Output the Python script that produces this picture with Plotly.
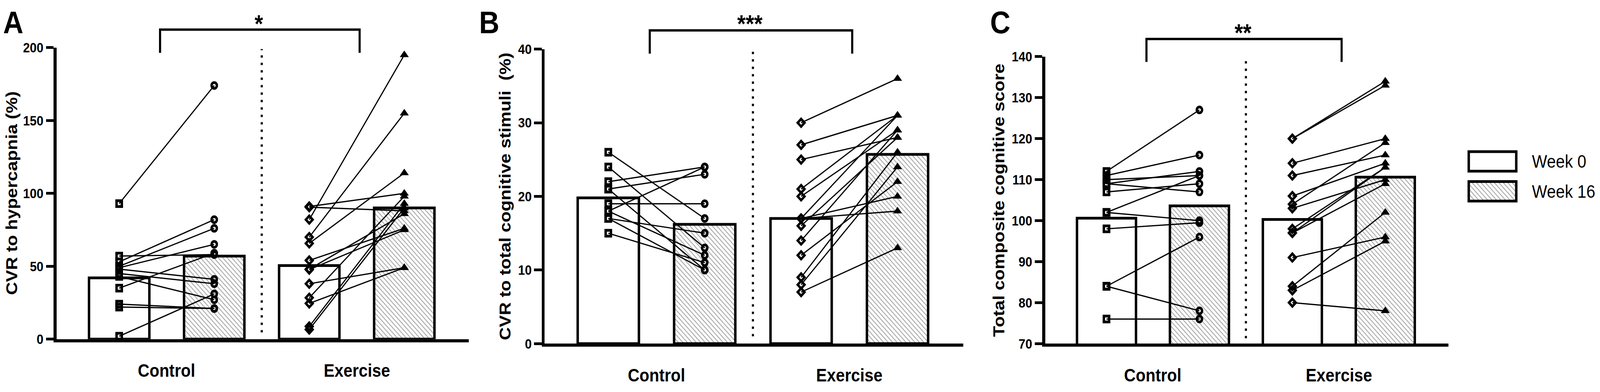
import plotly.graph_objects as go

W, H = 4562, 1003
FONT = "Liberation Sans, Arial, sans-serif"

# ---------------- data ----------------
groups = ["Control", "Exercise"]
week_names = ["Week 0", "Week 16"]

# Panel A - CVR to hypercapnia (%)
a_bar_week0 = [42, 50.5]
a_bar_week16 = [57, 90]
a_ctrl_week0 = [93, 57, 53, 50, 49, 35, 48, 45, 43, 24, 22, 2]
a_ctrl_week16 = [174, 58, 82, 76, 65, 59, 41, 38, 27, 21, 21, 31]
a_ex_week0 = [91, 90.5, 82, 70, 65.7, 54, 48, 47.7, 38, 28.4, 24.5, 8.7, 6.6]
a_ex_week16 = [100, 88, 195, 155, 114, 76, 86, 75, 49, 98, 49, 93, 90]
a_ticks = [0, 50, 100, 150, 200]

# Panel B - CVR to total cognitive stimuli (%)
b_bar_week0 = [19.8, 17.0]
b_bar_week16 = [16.2, 25.7]
b_ctrl_week0 = [26, 24, 22, 21, 19, 18, 18, 17, 17, 15, 21]
b_ctrl_week16 = [17, 13, 24, 23, 19, 24, 12, 15, 10, 11, 10]
b_ex_week0 = [30, 27, 25, 21, 20, 17, 17, 17, 16, 14, 12, 9, 8, 7]
b_ex_week16 = [36, 31, 28, 31, 29, 20, 18, 31, 28, 29, 22, 26, 24, 13]
b_ticks = [0, 10, 20, 30, 40]

# Panel C - Total composite cognitive score
c_bar_week0 = [100.6, 100.3]
c_bar_week16 = [103.6, 110.6]
c_ctrl_week0 = [112, 111, 110, 109, 109, 107, 102, 102, 98, 84, 84, 76]
c_ctrl_week16 = [127, 116, 111, 112, 107, 109, 111, 100, 99.5, 96, 78, 76]
c_ex_week0 = [120, 120, 114, 111, 106, 104, 103, 98, 97, 97, 91, 84, 83, 80]
c_ex_week16 = [134, 133, 120, 116, 114, 119, 110, 113, 109, 113, 96, 102, 95, 78]
c_ticks = [70, 80, 90, 100, 110, 120, 130, 140]

# bar slots on each x axis: Control W0, Control W16, Exercise W0, Exercise W16
slot_w0 = [1, 3]
slot_w16 = [2, 4]
group_centers = [1.5, 3.5]

# ---------------- layout helpers ----------------
def fx(p):
    return p / W

def fy(p):
    return 1 - p / H

panels = [
    dict(key="", letter="A", letter_x=38, title="CVR to hypercapnia (%)", title_x=33,
         xdom=(161, 1337), ydom=(106, 882), yrange=[0, 200], ticks=a_ticks,
         bw0=a_bar_week0, bw16=a_bar_week16,
         cw0=a_ctrl_week0, cw16=a_ctrl_week16, ew0=a_ex_week0, ew16=a_ex_week16,
         stars="*", star_y=42, br_top=58, br_bot=120, dot=(4.6, 199)),
    dict(key="2", letter="B", letter_x=1395, title="CVR to total cognitive stimuli  (%)", title_x=1440,
         xdom=(1553, 2746), ydom=(110, 894), yrange=[0, 40], ticks=b_ticks,
         bw0=b_bar_week0, bw16=b_bar_week16,
         cw0=b_ctrl_week0, cw16=b_ctrl_week16, ew0=b_ex_week0, ew16=b_ex_week16,
         stars="***", star_y=42, br_top=60, br_bot=122, dot=(1, 40)),
    dict(key="3", letter="C", letter_x=2852, title="Total composite cognitive score", title_x=2848,
         xdom=(2980, 4130), ydom=(130, 894), yrange=[70, 140], ticks=c_ticks,
         bw0=c_bar_week0, bw16=c_bar_week16,
         cw0=c_ctrl_week0, cw16=c_ctrl_week16, ew0=c_ex_week0, ew16=c_ex_week16,
         stars="**", star_y=66, br_top=83, br_bot=144, dot=(71.3, 139.5)),
]

BAR_W = 0.635
HATCH = dict(shape="\\", fgcolor="#555555", bgcolor="white", size=9, solidity=0.28)

fig = go.Figure()
shapes = []
annotations = []
layout_axes = {}

for p in panels:
    xa = "x" + p["key"]
    ya = "y" + p["key"]
    # bars
    fig.add_trace(go.Bar(x=slot_w0, y=p["bw0"], width=BAR_W, xaxis=xa, yaxis=ya,
                         marker=dict(color="white", line=dict(color="black", width=7)),
                         showlegend=False, hoverinfo="skip"))
    fig.add_trace(go.Bar(x=slot_w16, y=p["bw16"], width=BAR_W, xaxis=xa, yaxis=ya,
                         marker=dict(color="white", pattern=HATCH,
                                     line=dict(color="black", width=7)),
                         showlegend=False, hoverinfo="skip"))
    # paired lines
    for w0, w16, (s0, s1) in ((p["cw0"], p["cw16"], (1, 2)), (p["ew0"], p["ew16"], (3, 4))):
        lx, ly = [], []
        for a, b in zip(w0, w16):
            lx += [s0, s1, None]
            ly += [a, b, None]
        fig.add_trace(go.Scatter(x=lx, y=ly, mode="lines", xaxis=xa, yaxis=ya,
                                 line=dict(color="black", width=3.2),
                                 showlegend=False, hoverinfo="skip"))
    # markers
    mk = [
        (p["cw0"], 1, "square-open", 15, 7),
        (p["cw16"], 2, "circle-open", 15, 7),
        (p["ew0"], 3, "diamond-open", 15, 6.5),
    ]
    for vals, s, sym, sz, lw in mk:
        fig.add_trace(go.Scatter(x=[s] * len(vals), y=vals, mode="markers", xaxis=xa, yaxis=ya,
                                 marker=dict(symbol=sym, size=sz, color="black",
                                             line=dict(color="black", width=lw)),
                                 showlegend=False, hoverinfo="skip"))
    fig.add_trace(go.Scatter(x=[4] * len(p["ew16"]), y=p["ew16"], mode="markers", xaxis=xa, yaxis=ya,
                             marker=dict(symbol="triangle-up", size=21, color="black",
                                         line=dict(color="black", width=1)),
                             showlegend=False, hoverinfo="skip"))

    layout_axes["xaxis" + p["key"]] = dict(
        domain=[fx(p["xdom"][0]), fx(p["xdom"][1])], range=[0.34, 4.68],
        anchor=ya, showline=True, linecolor="black", linewidth=8,
        showticklabels=False, ticks="", showgrid=False, zeroline=False, fixedrange=True)
    layout_axes["yaxis" + p["key"]] = dict(
        domain=[fy(p["ydom"][1]), fy(p["ydom"][0])], range=p["yrange"],
        anchor=xa, showline=True, linecolor="black", linewidth=8,
        tickvals=p["ticks"], ticks="outside", ticklen=22, tickwidth=7, tickcolor="black",
        tickfont=dict(family=FONT, size=35, color="black", weight="bold"),
        showgrid=False, zeroline=False, fixedrange=True)

    # dotted separator
    shapes.append(dict(type="line", xref=xa, yref=ya, x0=2.5, x1=2.5, y0=p["dot"][0], y1=p["dot"][1],
                       line=dict(color="black", width=6, dash="6px,13px")))
    # significance bracket
    x0b, x1b = 1.43, 3.53
    yt, yb = fy(p["br_top"]), fy(p["br_bot"])
    shapes.append(dict(type="path", xref=xa, yref="paper",
                       path=f"M {x0b},{yb} L {x0b},{yt} L {x1b},{yt} L {x1b},{yb}",
                       line=dict(color="black", width=6)))
    annotations.append(dict(xref=xa, yref="paper", x=2.47, y=fy(p["star_y"]), text=p["stars"],
                            showarrow=False, xanchor="center", yanchor="middle",
                            font=dict(family=FONT, size=62, color="black", weight="bold")))
    # group labels
    for gc, g in zip(group_centers, groups):
        annotations.append(dict(xref=xa, yref="paper", x=gc, y=fy(p["ydom"][1] + 84), text=g,
                                showarrow=False, xanchor="center", yanchor="middle",
                                font=dict(family=FONT, size=46, color="black", weight="bold")))
    # y title
    annotations.append(dict(xref="paper", yref="paper", x=fx(p["title_x"]),
                            y=fy((p["ydom"][0] + p["ydom"][1]) / 2), text=p["title"], textangle=-90,
                            showarrow=False, xanchor="center", yanchor="middle",
                            font=dict(family=FONT, size=46, color="black", weight="bold")))
    # panel letter
    annotations.append(dict(xref="paper", yref="paper", x=fx(p["letter_x"]), y=fy(39), text=p["letter"],
                            showarrow=False, xanchor="center", yanchor="middle",
                            font=dict(family=FONT, size=80, color="black", weight="bold")))

# legend drawn as two small bars on their own hidden axes
fig.add_trace(go.Bar(x=[1], y=[1], orientation="h", width=0.654, xaxis="x4", yaxis="y4",
                     marker=dict(color="white", line=dict(color="black", width=7)),
                     showlegend=False, hoverinfo="skip"))
fig.add_trace(go.Bar(x=[1], y=[0], orientation="h", width=0.654, xaxis="x4", yaxis="y4",
                     marker=dict(color="white", pattern=HATCH, line=dict(color="black", width=7)),
                     showlegend=False, hoverinfo="skip"))
layout_axes["xaxis4"] = dict(domain=[fx(4181), fx(4330)], range=[-0.05, 1.05], anchor="y4",
                             visible=False, fixedrange=True)
layout_axes["yaxis4"] = dict(domain=[fy(528.25), fy(369.25)], range=[-0.5, 1.5], anchor="x4",
                             visible=False, fixedrange=True)
for yy, name in zip([409, 489], week_names):
    annotations.append(dict(xref="paper", yref="paper", x=fx(4366), y=fy(yy), text=name,
                            showarrow=False, xanchor="left", yanchor="middle",
                            font=dict(family=FONT, size=46, color="black")))

fig.update_layout(
    width=W, height=H, autosize=False, margin=dict(l=0, r=0, t=0, b=0),
    paper_bgcolor="white", plot_bgcolor="white",
    barmode="overlay", showlegend=False,
    shapes=shapes, annotations=annotations,
    font=dict(family=FONT, color="black"),
    **layout_axes,
)

# fit the fixed-size figure exactly into whatever viewport the page is shown in
fit_js = (
    "document.documentElement.style.margin='0';document.documentElement.style.overflow='hidden';"
    "document.body.style.margin='0';document.body.style.overflow='hidden';"
    "var gd=document.getElementById('{plot_id}');"
    "function fitFig(){var sx=window.innerWidth/%d, sy=window.innerHeight/%d;"
    "gd.style.transformOrigin='0 0';gd.style.transform='scale('+sx+','+sy+')';}"
    "fitFig();window.addEventListener('resize', fitFig);"
) % (W, H)

fig.write_html("out.html", config={"displayModeBar": False, "staticPlot": True},
               post_script=fit_js)
